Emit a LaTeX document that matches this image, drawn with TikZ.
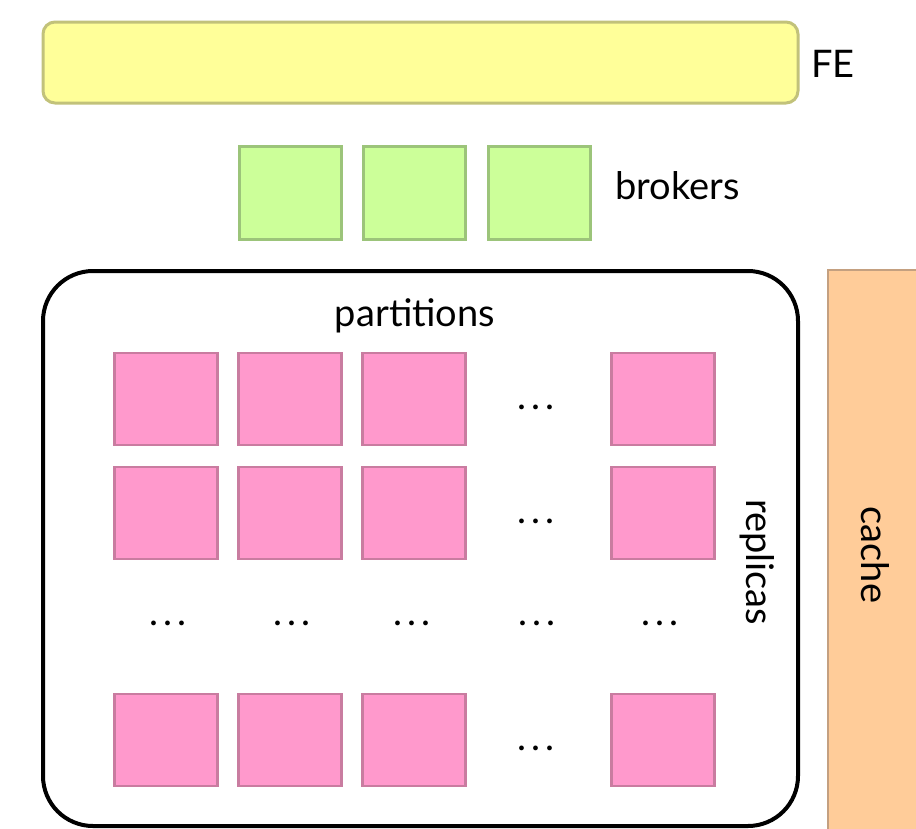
\documentclass[tikz,border=0pt]{standalone}
\usepackage{fontspec}
\setmainfont{Lato}
\definecolor{feFill}{HTML}{FFFF99}
\definecolor{feLine}{HTML}{C2C27A}
\definecolor{brFill}{HTML}{CCFF99}
\definecolor{brLine}{HTML}{9CC47A}
\definecolor{ptFill}{HTML}{FF99CC}
\definecolor{ptLine}{HTML}{C97CA0}
\definecolor{caFill}{HTML}{FFCC99}
\definecolor{caLine}{HTML}{C4A080}
\newcommand{\spreaddots}{.\kern5.5pt.\kern5.5pt.}
\tikzset{
  lbl/.style={font=\fontsize{38}{44}\selectfont, inner sep=0pt},
  dotsl/.style={font=\fontsize{38}{44}\selectfont, inner sep=0pt, anchor=base},
  broker/.style={draw=brLine, fill=brFill, line width=3pt, minimum width=102pt, minimum height=93pt, inner sep=0pt},
  part/.style={draw=ptLine, fill=ptFill, line width=2.5pt, minimum width=103pt, minimum height=92pt, inner sep=0pt},
}
\begin{document}
\begin{tikzpicture}[x=1pt,y=-1pt]
\useasboundingbox (0,0) rectangle (916,828);
% front end
\draw[draw=feLine, fill=feFill, line width=3pt, rounded corners=12pt] (43,22) rectangle (798,103);
\node[lbl, anchor=base west] (fe) at (811,77) {FE};
% brokers
\node[broker] (b1) at (290,193) {};
\node[broker] (b2) at (414,193) {};
\node[broker] (b3) at (539,193) {};
\node[lbl, anchor=base west] (brk) at (615,199) {brokers};
% cache column
\draw[draw=caLine, fill=caFill, line width=2pt] (828,270) rectangle (930,840);
\node[lbl, rotate=-90] (cache) at (875,555) {cache};
% partition frame
\draw[line width=4pt, rounded corners=50pt] (43,271) rectangle (798,826);
\node[lbl, anchor=base] (parts) at (415,326) {partitions};
\node[lbl, rotate=-90] (repl) at (757,562) {replicas};
% grid of partitions
\foreach \r/\y/\dy in {1/399/409, 2/513/523, 3/740/750} {
  \foreach \c/\x in {1/166, 2/290, 3/414, 5/663} {
    \node[part] (p\r\c) at (\x,\y) {};
  }
  \node[dotsl] (d\r) at (536,\dy) {\spreaddots};
}
\foreach \c/\x in {1/168, 2/292, 3/412, 4/537, 5/660} {
  \node[dotsl] (v\c) at (\x,625) {\spreaddots};
}
\end{tikzpicture}
\end{document}
